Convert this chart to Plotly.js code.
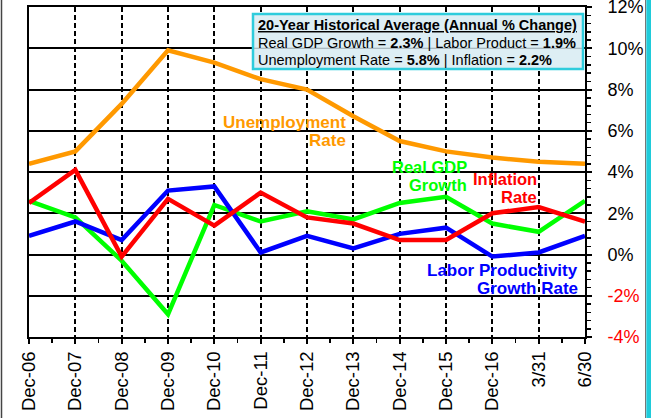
<!DOCTYPE html>
<html>
<head>
<meta charset="utf-8">
<script src="https://cdn.plot.ly/plotly-3.0.1.min.js"></script>
<style>
html,body{margin:0;padding:0;background:#fff;}
#chart{width:651px;height:418px;}
</style>
</head>
<body>
<div id="chart"></div>
<script>
// ---- data ----
const categories = ['Dec-06','Dec-07','Dec-08','Dec-09','Dec-10','Dec-11','Dec-12','Dec-13','Dec-14','Dec-15','Dec-16','3/31','6/30'];
const unemploymentRate = [4.4, 5.0, 7.3, 9.9, 9.3, 8.5, 8.0, 6.7, 5.5, 5.0, 4.7, 4.5, 4.4];
const inflationRate    = [2.5, 4.1, -0.1, 2.7, 1.4, 3.0, 1.8, 1.5, 0.7, 0.7, 2.0, 2.3, 1.6];
const realGdpGrowth    = [2.6, 1.8, -0.3, -2.9, 2.4, 1.6, 2.1, 1.7, 2.5, 2.8, 1.5, 1.1, 2.6];
const laborProductivity= [0.9, 1.6, 0.7, 3.1, 3.3, 0.1, 0.9, 0.3, 1.0, 1.3, -0.1, 0.1, 0.9];
const yTickVals = [-4, -2, 0, 2, 4, 6, 8, 10, 12];
const yTickText = ['-4%', '-2%', '0%', '2%', '4%', '6%', '8%', '10%', '12%'];
const avgTitle = '20-Year Historical Average (Annual % Change)';
const avgGdp = '2.3%', avgProd = '1.9%', avgUnemp = '5.8%', avgInfl = '2.2%';

// ---- layout helpers (pixel -> paper) ----
const W = 651, H = 418, L = 29, R = 66, T = 7, B = 81;
const PW = W - L - R, PH = H - T - B;
const px = x => (x - L) / PW;
const py = y => (H - B - y) / PH;

const xIdx = categories.map((_, i) => i);
const FONT = '"Liberation Sans", Arial, sans-serif';

function series(y, color) {
  return {x: xIdx, y: y, type: 'scatter', mode: 'lines',
          line: {color: color, width: 4.5}, hoverinfo: 'skip', showlegend: false, cliponaxis: false};
}

const traces = [
  series(realGdpGrowth, '#00FF00'),
  series(laborProductivity, '#0000FF'),
  series(inflationRate, '#FF0000'),
  series(unemploymentRate, '#FF9900')
];

function lbl(text, x, y, color, size, bold, anchor) {
  return {xref: 'paper', yref: 'paper', x: px(x), y: py(y), text: bold ? '<b>' + text + '</b>' : text,
          showarrow: false, xanchor: anchor || 'right', yanchor: 'middle', borderpad: 0,
          font: {family: FONT, size: size, color: color}};
}

const annotations = [
  lbl('Unemployment', 347, 122, '#FF9900', 17, true),
  lbl('Rate', 347, 141, '#FF9900', 17, true),
  lbl('Real GDP', 468, 167, '#00FF00', 16.5, true),
  lbl('Growth', 468, 185, '#00FF00', 16.5, true),
  lbl('Inflation', 538, 179, '#FF0000', 16.5, true),
  lbl('Rate', 538, 197, '#FF0000', 16.5, true),
  lbl('Labor Productivity', 579, 270, '#0000FF', 17, true),
  lbl('Growth Rate', 579, 288, '#0000FF', 17, true),
  lbl('<u>' + avgTitle + '</u>', 257, 25, '#000', 14.5, true, 'left'),
  lbl('Real GDP Growth = <b>' + avgGdp + '</b> | Labor Product = <b>' + avgProd + '</b>', 257, 43, '#000', 14.5, false, 'left'),
  lbl('Unemployment Rate = <b>' + avgUnemp + '</b> | Inflation = <b>' + avgInfl + '</b>', 257, 60, '#000', 14.5, false, 'left')
];

const shapes = [
  // summary box
  {type: 'rect', xref: 'paper', yref: 'paper', x0: px(253), x1: px(583), y0: py(69), y1: py(14),
   fillcolor: '#DDEEF4', line: {color: '#2ECCDC', width: 2.5}, layer: 'above'},
  {type: 'line', xref: 'paper', yref: 'y', x0: px(254), x1: px(582), y0: 10, y1: 10,
   line: {color: '#9AA8AE', width: 1}, layer: 'above'},
  // outer frame bits
  {type: 'line', xref: 'paper', yref: 'paper', x0: px(1.5), x1: px(1.5), y0: py(418), y1: py(0),
   line: {color: '#444', width: 1.5}},
  {type: 'line', xref: 'paper', yref: 'paper', x0: px(645.5), x1: px(645.5), y0: py(418), y1: py(0),
   line: {color: '#777', width: 1}},
  {type: 'rect', xref: 'paper', yref: 'paper', x0: px(646.3), x1: px(652), y0: py(419), y1: py(-1),
   fillcolor: '#1FCBDA', line: {width: 0}}
];

const layout = {
  width: W, height: H,
  margin: {l: L, r: R, t: T, b: B, pad: 0},
  paper_bgcolor: '#fff', plot_bgcolor: '#fff',
  font: {family: FONT, color: '#000'},
  showlegend: false,
  xaxis: {
    type: 'linear', range: [0, categories.length - 1], fixedrange: true,
    tickmode: 'array', tickvals: xIdx, ticktext: categories, tickangle: -90,
    tickfont: {family: FONT, size: 18.5, color: '#000'},
    ticks: 'outside', ticklen: 5, tickwidth: 2, tickcolor: '#000',
    ticklabeloverflow: 'allow',
    showgrid: true, gridcolor: '#000', gridwidth: 2, griddash: '5px,3px',
    showline: true, linecolor: '#000', linewidth: 2, mirror: true,
    zeroline: false,
    minor: {tickmode: 'linear', tick0: 0.5, dtick: 1, ticks: 'outside', ticklen: 4, tickwidth: 1.5, tickcolor: '#000', showgrid: false}
  },
  yaxis: {
    range: [-4, 12], side: 'right', fixedrange: true,
    tickmode: 'array', tickvals: yTickVals,
    ticktext: yTickText.map((t, i) => yTickVals[i] < 0 ? '<span style="color:#FF0000">' + t + '</span>' : t),
    tickfont: {family: FONT, size: 18, color: '#000'},
    ticks: 'outside', ticklen: 5, tickwidth: 2, tickcolor: '#000',
    ticklabelstandoff: 12, ticklabeloverflow: 'allow',
    showgrid: true, gridcolor: '#000', gridwidth: 2,
    showline: true, linecolor: '#000', linewidth: 2, mirror: true,
    zeroline: false,
    minor: {tickmode: 'linear', tick0: 0, dtick: 0.4, ticks: 'outside', ticklen: 4, tickwidth: 1.5, tickcolor: '#000', showgrid: false}
  },
  annotations: annotations,
  shapes: shapes
};

Plotly.newPlot('chart', traces, layout, {staticPlot: true, displayModeBar: false});
</script>
</body>
</html>
